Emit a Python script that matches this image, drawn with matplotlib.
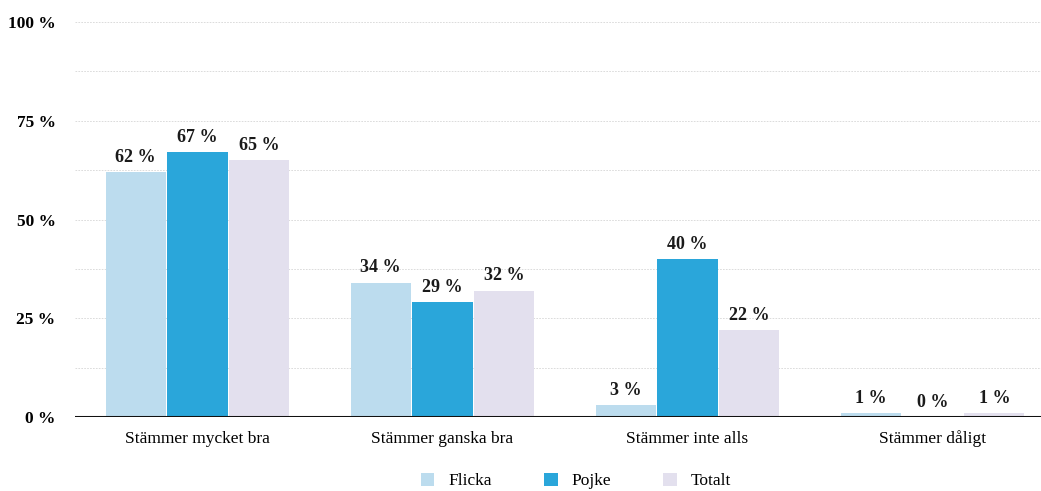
import numpy as np
import matplotlib
matplotlib.use("Agg")
import matplotlib.pyplot as plt
from matplotlib.patches import Patch

categories = ["Stämmer mycket bra", "Stämmer ganska bra", "Stämmer inte alls", "Stämmer dåligt"]
flicka = [62, 34, 3, 1]
pojke = [67, 29, 40, 0]
totalt = [65, 32, 22, 1]
series_names = ["Flicka", "Pojke", "Totalt"]
yticks = [0, 25, 50, 75, 100]

colors = ["#bcdcee", "#2aa6da", "#e3e0ee"]
serif = ["Liberation Serif", "DejaVu Serif"]

fig = plt.figure(figsize=(10.41, 4.91), dpi=100)
W, H = 1041, 491
ax = fig.add_axes([75 / W, (H - 417) / H, (W - 75) / W, (417 - 22) / H])

x = np.arange(len(categories))
width = 0.245
step = 0.253
for i, (vals, col) in enumerate(zip([flicka, pojke, totalt], colors)):
    pos = x + (i - 1) * step
    ax.bar(pos, vals, width=width, color=col, zorder=3)
    for px, v in zip(pos, vals):
        ax.text(px, v + 1.6, f"{v} %", ha="center", va="bottom",
                fontsize=13, fontweight="bold", family=serif, color="#1a1a1a")

ax.set_xlim(-0.5, 3.5 - 14 / 245)
ax.set_ylim(0, 100)

# faint dotted grid every 12.5 %
for g in np.arange(12.5, 100.1, 12.5):
    ax.axhline(g, color="#d6d6d6", lw=0.6, ls=(0, (2, 1.5)), zorder=1)
ax.axhline(0, color="#111111", lw=2.2, zorder=4)

for s in ax.spines.values():
    s.set_visible(False)
ax.set_yticks(yticks)
ax.set_yticklabels([f"{t} %" for t in yticks], fontsize=12.5, fontweight="bold", family=serif)
ax.tick_params(axis="y", length=0, pad=14)
ax.set_xticks(x)
ax.set_xticklabels(categories, fontsize=12.5, family=serif, va="baseline")
ax.tick_params(axis="x", length=0, pad=19)

handles = [Patch(facecolor=c, label=n) for c, n in zip(colors, series_names)]
fig.legend(handles=handles, loc="center", bbox_to_anchor=(576 / W, 1 - 481 / H), ncol=3,
           frameon=False, prop={"family": serif, "size": 12.5},
           handlelength=0.8, handleheight=0.8, columnspacing=3.0, handletextpad=0.8)

fig.savefig("out.png", dpi=100)
